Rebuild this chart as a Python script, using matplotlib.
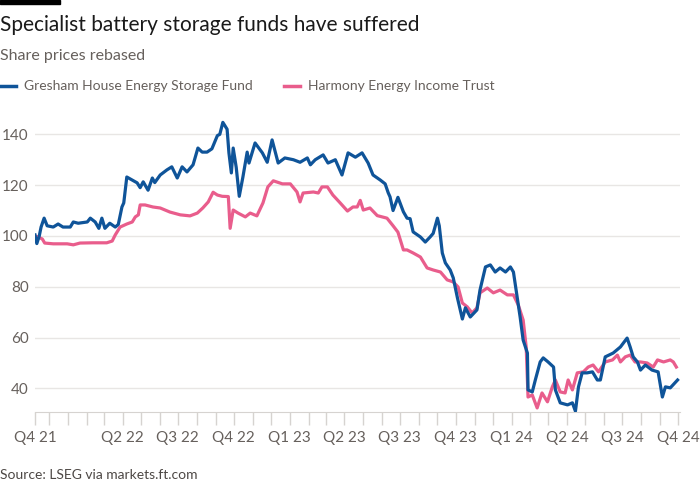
import numpy as np
import pandas as pd
import matplotlib
matplotlib.use("Agg")
import matplotlib.pyplot as plt
import matplotlib.dates as mdates
from matplotlib.lines import Line2D

plt.rcParams['font.family'] = ['Lato', 'DejaVu Sans']

# data: days since 8 Nov 2021, share price rebased to 100
start = pd.Timestamp("2021-11-08")

gres_days = [0, 3, 7, 10, 15, 20, 30, 38, 46, 58, 63, 71, 86, 91, 99, 105, 110, 115, 123, 132,
             137, 143, 146, 151, 160, 168, 173, 178, 186, 193, 197, 206, 217, 225, 234, 242, 250,
             260, 268, 275, 283, 291, 300, 304, 309, 316, 319, 323, 326, 331, 336, 342, 349, 352,
             362, 374, 382, 390, 400, 411, 425, 436, 448, 453, 461, 474, 482, 494, 505, 515, 527,
             538, 548, 556, 568, 576, 581, 584, 589, 597, 606, 612, 617, 622, 634, 642, 650, 655,
             662, 665, 670, 675, 683, 688, 695, 703, 708, 716, 727, 732, 741, 749, 757, 765, 774,
             782, 787, 793, 798, 803, 810, 811, 818, 823, 831, 836, 844, 853, 856, 864, 876, 884,
             889, 894, 900, 908, 917, 925, 930, 938, 951, 963, 974, 979, 984, 991, 996, 1004,
             1015, 1025, 1032, 1037, 1045, 1057]
gres = [100.4, 97, 100, 103.5, 107, 104, 103.5, 104.7, 103.5, 103.5, 105.5, 105, 105.5, 107,
        105.5, 103, 107, 103, 105, 103.5, 104.5, 111.4, 113, 123.2, 122, 120.9, 119, 121.3, 118,
        122.8, 121, 124, 126, 127.2, 122.8, 127.2, 125.2, 128, 134.6, 133, 133, 134.3, 139.5,
        140, 144.7, 142, 132.7, 124.8, 134.6, 127, 115.6, 123.2, 133, 128.7, 136.6, 132.7, 129,
        137.8, 128.7, 130.7, 130, 129, 130.7, 128, 130, 131.9, 128.7, 130, 124, 132.7, 131,
        132.7, 128.7, 124, 122, 120.5, 117, 115.4, 110, 115.2, 109.5, 107, 106.8, 101.6, 99.6,
        97.6, 99.6, 101, 107, 104, 93.3, 89.4, 86.6, 83.5, 75.5, 67.3, 71.7, 68.1, 70.9, 78.7,
        87.8, 88.6, 85.8, 87.4, 85.8, 87.8, 85.8, 76, 68.1, 59, 53.9, 39.4, 38.6, 43.3, 50.4,
        52, 50.4, 48.4, 39.4, 34.3, 33.5, 34.3, 31, 40.6, 46.1, 46.1, 46.5, 43.3, 43.3, 52.4,
        53.9, 56.3, 59.8, 56.3, 52.4, 50.4, 47.2, 49.2, 47.2, 46.5, 36.6, 40.6, 40.2, 43.3]

harm_days = [0, 5, 12, 16, 30, 53, 63, 74, 95, 118, 127, 132, 140, 151, 160, 165, 170, 173,
             181, 194, 206, 222, 239, 255, 267, 276, 285, 293, 300, 308, 318, 321, 326, 334,
             346, 354, 365, 375, 383, 392, 407, 420, 431, 436, 441, 458, 466, 472, 481, 490,
             502, 514, 523, 530, 535, 540, 551, 563, 579, 589, 597, 606, 612, 622, 634, 645,
             655, 667, 678, 688, 696, 703, 711, 719, 727, 732, 744, 754, 765, 777, 787, 795,
             803, 808, 811, 818, 826, 834, 843, 851, 856, 864, 872, 877, 884, 892, 902, 910,
             918, 927, 938, 950, 958, 963, 971, 979, 987, 996, 1007, 1017, 1024, 1034, 1045,
             1050, 1055]
harm = [100, 99.6, 98.8, 97.2, 96.9, 96.9, 96.5, 97.2, 97.3, 97.3, 98, 100.4, 103.5, 104.7,
        105.5, 107.5, 108.3, 112.2, 112.2, 111.4, 111, 109.4, 108.3, 107.9, 109, 111, 113.4,
        117.2, 116.1, 115.6, 115.5, 103, 110.2, 109, 107.5, 109, 107.9, 113, 119.3, 121.7,
        120.5, 120.5, 117.3, 113.4, 116.9, 117.3, 116.9, 119.3, 119.3, 116.1, 113, 109.8,
        111.4, 111.4, 114, 110.2, 111, 108, 107, 104, 101.5, 94.5, 94.5, 93.3, 91.7, 87.4,
        86.6, 85.8, 82.7, 81.9, 79.9, 73.6, 72.1, 69.7, 71.7, 77.6, 79.5, 77.6, 78.7, 76.8,
        76.8, 72.8, 66.9, 56.3, 36.6, 37.4, 32.3, 38.2, 34.7, 40.6, 43.3, 38.6, 38.2, 43.3,
        39.4, 46.1, 46.5, 48.4, 49.2, 46.5, 50.4, 51.2, 53.1, 50.4, 52.4, 53.1, 50.4, 50.4,
        50, 48.4, 51.2, 50.4, 51.2, 50.4, 48.4]

tick_dates = ["2021-11-08", "2022-04-01", "2022-07-01", "2022-10-01", "2023-01-01",
              "2023-04-01", "2023-07-01", "2023-10-01", "2024-01-01", "2024-04-01",
              "2024-07-01", "2024-10-01"]
tick_labels = ["Q4 21", "Q2 22", "Q3 22", "Q4 22", "Q1 23", "Q2 23", "Q3 23", "Q4 23",
               "Q1 24", "Q2 24", "Q3 24", "Q4 24"]
yticks = [40, 60, 80, 100, 120, 140]

blue = "#0f5499"
pink = "#e95d8c"
grey = "#66605c"

gres_x = start + pd.to_timedelta(gres_days, unit="D")
harm_x = start + pd.to_timedelta(harm_days, unit="D")

fig = plt.figure(figsize=(7, 5), dpi=100, facecolor="white")
ax = fig.add_axes([35/700, 1 - 412/500, 645/700, 298/500])

ax.plot(harm_x, harm, color=pink, lw=2.3, solid_joinstyle="round", zorder=3)
ax.plot(gres_x, gres, color=blue, lw=2.3, solid_joinstyle="round", zorder=4)

ax.set_ylim(30.7, 148)
ax.set_xlim(start, start + pd.Timedelta(days=1061))
ax.set_yticks(yticks)
ax.yaxis.grid(True, color="#e8e6e4", lw=1)
ax.set_axisbelow(True)
ax.tick_params(axis="y", length=0, pad=4.5, labelsize=11, labelcolor=grey)

# monthly ticks plus labelled quarters
month_ticks = [start] + list(pd.date_range("2021-12-01", "2024-10-01", freq="MS"))
ax.set_xticks(month_ticks, minor=True)
ax.set_xticks(pd.to_datetime(tick_dates))
ax.set_xticklabels(tick_labels)
ax.tick_params(axis="x", which="both", length=9, width=1, color="#d6d3d0", pad=5,
               labelsize=11, labelcolor=grey)

for s in ["top", "right", "left"]:
    ax.spines[s].set_visible(False)
ax.spines["bottom"].set_color("#d6d3d0")

# header
fig.add_artist(plt.Rectangle((0, 1 - 3.5/500), 60/700, 3.5/500, color="black",
                             transform=fig.transFigure))
fig.text(0, 1 - 25/500, "Specialist battery storage funds have suffered", fontsize=15,
         color="#1a1a1a", va="center", ha="left")
fig.text(0, 1 - 56/500, "Share prices rebased", fontsize=11.5, color=grey, va="center")

fig.add_artist(Line2D([0, 16/700], [1 - 86/500] * 2, color=blue, lw=2.5,
                      transform=fig.transFigure))
fig.text(24/700, 1 - 86/500, "Gresham House Energy Storage Fund", fontsize=10,
         color=grey, va="center")
fig.add_artist(Line2D([284/700, 300/700], [1 - 86/500] * 2, color=pink, lw=2.5,
                      transform=fig.transFigure))
fig.text(308/700, 1 - 86/500, "Harmony Energy Income Trust", fontsize=10,
         color=grey, va="center")

fig.text(0, 1 - 475/500, "Source: LSEG via markets.ft.com", fontsize=10, color="#4d4845",
         va="center")

fig.savefig("out.png", dpi=100, facecolor="white")
